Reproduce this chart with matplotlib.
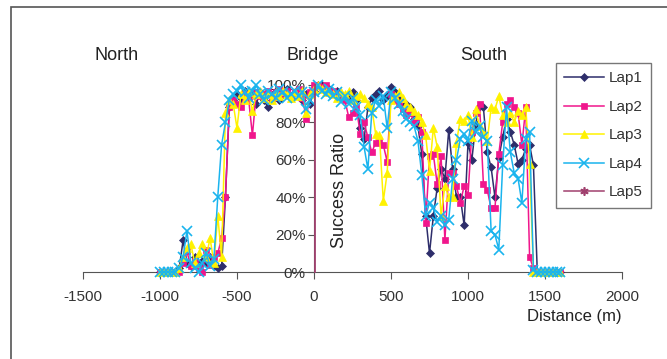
import numpy as np
import matplotlib.pyplot as plt
from matplotlib.lines import Line2D
from matplotlib.patches import Rectangle

plt.rcParams['font.family'] = ['Liberation Sans', 'DejaVu Sans']
plt.rcParams['axes.unicode_minus'] = False

# distance grid (m), one sample every 25 m
distance = np.arange(-1000, 1625, 25)

# success ratio (%) per lap, 4 samples per line = 100 m
lap1 = [0, 0, 0, 0,        # -1000
        0, 2, 17, 5,       # -900
        3, 8, 4, 6,        # -800
        5, 8, 3, 2,        # -700
        3, 40, 88, 92,     # -600
        95, 93, 97, 94,    # -500
        95, 90, 96, 92,    # -400
        88, 94, 97, 92,    # -300
        95, 98, 93, 96,    # -200
        97, 92, 95, 90,    # -100
        97, 100, 100, 99,  # 0
        98, 96, 97, 95,    # 100
        93, 94, 96, 92,    # 200
        77, 71, 88, 93,    # 300
        95, 97, 92, 94,    # 400
        99, 96, 93, 88,    # 500
        90, 88, 82, 78,    # 600
        63, 30, 10, 30,    # 700
        45, 55, 50, 76,    # 800
        55, 40, 40, 25,    # 900
        69, 60, 79, 89,    # 1000
        88, 64, 56, 40,    # 1100
        61, 72, 82, 75,    # 1200
        68, 58, 60, 66,    # 1300
        68, 57, 0, 0,      # 1400
        0, 0, 0, 0,        # 1500
        0]
lap2 = [0, 0, 0, 0,
        0, 0, 5, 11,
        3, 6, 2, 0,
        12, 4, 8, 10,
        18, 40, 88, 92,
        90, 88, 95, 93,
        73, 96, 94, 95,
        97, 93, 96, 98,
        95, 97, 94, 96,
        98, 93, 82, 96,
        100, 100, 99, 100,
        96, 97, 95, 94,
        92, 83, 85, 88,
        74, 80, 72, 64,
        69, 70, 68, 59,
        95, 92, 90, 87,
        84, 85, 80, 83,
        75, 26, 62, 63,
        47, 62, 17, 53,
        53, 46, 37, 46,
        41, 75, 85, 90,
        47, 44, 34, 34,
        63, 80, 90, 92,
        88, 85, 68, 88,
        8, 2, 0, 0,
        0, 0, 0, 0,
        0]
lap3 = [0, 0, 0, 0,
        0, 2, 8, 13,
        15, 5, 10, 15,
        8, 18, 5, 30,
        8, 85, 92, 90,
        77, 95, 92, 96,
        86, 95, 97, 93,
        95, 92, 96, 94,
        97, 95, 93, 96,
        94, 97, 85, 95,
        98, 100, 98, 96,
        97, 95, 93, 96,
        95, 97, 92, 94,
        95, 93, 90, 88,
        74, 73, 38, 53,
        92, 94, 96, 93,
        90, 88, 86, 84,
        80, 73, 54, 77,
        67, 30, 46, 40,
        40, 69, 82, 81,
        84, 72, 87, 78,
        75, 70, 88, 87,
        94, 84, 80, 85,
        80, 86, 84, 88,
        58, 0, 0, 0,
        0, 0, 0, 0,
        0]
lap4 = [0, 0, 0, 0,
        0, 2, 8, 22,
        5, 2, 0, 5,
        10, 3, 7, 40,
        68, 80, 92, 95,
        97, 100, 96, 93,
        97, 100, 95, 92,
        97, 95, 93, 98,
        96, 93, 95, 97,
        94, 96, 87, 92,
        96, 100, 97, 95,
        98, 94, 96, 91,
        94, 90, 93, 88,
        84, 67, 55, 85,
        92, 89, 94, 77,
        96, 93, 90, 86,
        82, 80, 78, 70,
        52, 30, 37, 34,
        27, 30, 25, 28,
        50, 60, 71, 74,
        70, 81, 75, 78,
        72, 70, 22, 20,
        12, 57, 88, 64,
        53, 50, 37, 71,
        75, 1, 0, 0,
        0, 0, 0, 0,
        0]
lap5_distance = [5, 5]
lap5 = [0, 100]

labels = ['Lap1', 'Lap2', 'Lap3', 'Lap4', 'Lap5']
colors = ['#2E2E6B', '#F0168C', '#FFF200', '#1AB4EE', '#A0406E']
markers = ['D', 's', '^', 'x', (6, 2, 0)]
msizes = [4, 4.5, 5.5, 6.5, 6]

fig = plt.figure(figsize=(6.67, 3.59), dpi=100)
W, H = 667, 359
ax = fig.add_axes([83 / W, 1 - 272 / H, (622 - 83) / W, (272 - 85) / H])

for d, c, m, s in zip([lap1, lap2, lap3, lap4], colors, markers, msizes):
    ax.plot(distance, d, color=c, marker=m, markersize=s, lw=1.1,
            markeredgewidth=1.2 if m == 'x' else 0.5, clip_on=False)
ax.plot(lap5_distance, lap5, color=colors[4], lw=1.3, clip_on=False)

ax.set_xlim(-1500, 2000)
ax.set_ylim(0, 100)
ax.set_xticks(range(-1500, 2001, 500))
ax.set_yticks(range(0, 101, 20))
ax.set_yticklabels([f'{v}%' for v in range(0, 101, 20)])
ax.spines['left'].set_position(('data', 0))
ax.spines['top'].set_visible(False)
ax.spines['right'].set_visible(False)
for sp in ['left', 'bottom']:
    ax.spines[sp].set_color('#555555')
    ax.spines[sp].set_zorder(0)
ax.tick_params(axis='both', direction='out', colors='#555555', labelcolor='#333333',
               labelsize=11)
ax.tick_params(axis='x', length=5, pad=8)
ax.tick_params(axis='y', length=4, pad=2)
ax.patch.set_alpha(0)

fig.text(117 / W, 1 - 55 / H, 'North', fontsize=13, color='#222222', ha='center', va='center')
fig.text(313 / W, 1 - 55 / H, 'Bridge', fontsize=13, color='#222222', ha='center', va='center')
fig.text(484 / W, 1 - 55 / H, 'South', fontsize=13, color='#222222', ha='center', va='center')
fig.text(340 / W, 1 - 190 / H, 'Success Ratio', fontsize=13, color='#222222',
         rotation=90, ha='center', va='center')
fig.text(574 / W, 1 - 316 / H, 'Distance (m)', fontsize=12, color='#222222',
         ha='center', va='center')

handles = [Line2D([], [], color=c, marker=m, markersize=s, lw=1.1,
                  markeredgewidth=1.2 if m in ('x', (6, 2, 0)) else 0.5)
           for c, m, s in zip(colors, markers, msizes)]
leg = fig.legend(handles, labels, loc='upper left', bbox_to_anchor=(556 / W, 1 - 63 / H),
                 fontsize=11, frameon=True, fancybox=False, borderpad=0.55,
                 labelspacing=0.95, handlelength=2.6, handletextpad=0.3,
                 borderaxespad=0)
leg.get_frame().set_edgecolor('#555555')
leg.get_frame().set_linewidth(1.0)
for t in leg.get_texts():
    t.set_color('#333333')

fig.patches.append(Rectangle((11 / W, -0.1), 1.2, 1 - 7 / H + 0.1, transform=fig.transFigure,
                             fill=False, edgecolor='#555555', lw=1.2))

fig.savefig('out.png', dpi=100)
